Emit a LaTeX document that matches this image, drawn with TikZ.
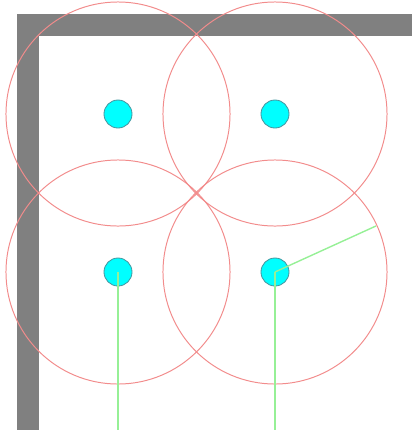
\documentclass[tikz,border=0pt]{standalone}
\usepackage{tikz}
\usepackage{xcolor}
\usetikzlibrary{positioning,calc}
\definecolor{WallGray}{RGB}{128,128,128}
\definecolor{RangeRed}{RGB}{242,140,140}
\definecolor{BeamGreen}{RGB}{150,240,150}
\definecolor{RobotCyan}{RGB}{0,255,255}
\definecolor{RobotEdge}{RGB}{70,150,160}
\tikzset{
  wall/.style={fill=WallGray,draw=none},
  rangecirc/.style={draw=RangeRed,circle,minimum size=5.6cm,inner sep=0pt,line width=0.7pt},
  robot/.style={draw=RobotEdge,fill=RobotCyan,circle,minimum size=0.7cm,inner sep=0pt,line width=0.6pt},
  beam/.style={BeamGreen,line width=1pt},
}
\begin{document}
\begin{tikzpicture}[x=0.025cm,y=-0.025cm]
    \useasboundingbox (0,0) rectangle (412,430);
    % Walls
    \fill[wall] (17,14) rectangle (412,36);
    \fill[wall] (17,14) rectangle (39,430);

    % Range circles
    \node[rangecirc] (r1) at (118,114) {};
    \node[rangecirc] (r2) at (275,114) {};
    \node[rangecirc] (r3) at (118,272) {};
    \node[rangecirc] (r4) at (275,272) {};

    % Robots
    \node[robot] (d1) at (118,114) {};
    \node[robot] (d2) at (275,114) {};
    \node[robot] (d3) at (118,272) {};
    \node[robot] (d4) at (275,272) {};

    % Beam ends
    \coordinate (e3) at (118,430);
    \coordinate (e4) at (275,430);
    \coordinate (e5) at ($(d4.center)+(-24.5:111)$);

    % Beams
    \draw[beam] (d3.center) -- (e3);
    \draw[beam] (d4.center) -- (e4);
    \draw[beam] (d4.center) -- (e5);
\end{tikzpicture}
\end{document}
